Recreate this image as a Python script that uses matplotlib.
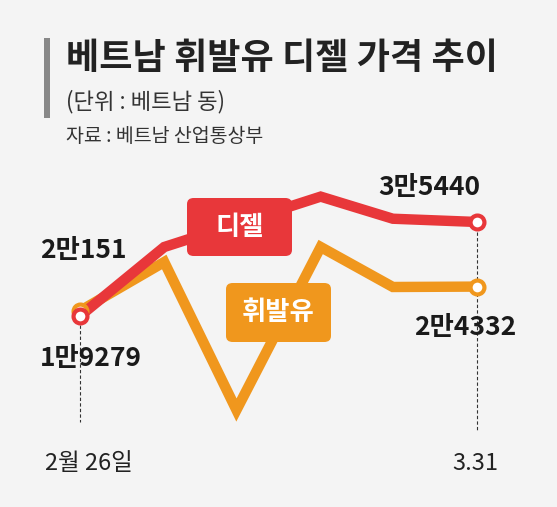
import matplotlib.pyplot as plt
from matplotlib.patches import FancyBboxPatch, Rectangle

plt.rcParams['font.family'] = ['Noto Sans CJK KR', 'DejaVu Sans']

# days since Feb 26
diesel_days = [0, 7, 20, 26, 33]
diesel_vals = [19279, 31140, 39800, 36000, 35440]
gas_days = [0, 7, 13, 20, 26, 33]
gas_vals = [20151, 28560, 3120, 31140, 24265, 24332]

RED = '#e8373a'
ORANGE = '#f0971d'
BG = '#f4f4f4'

W, H = 557, 507
fig = plt.figure(figsize=(W / 100, H / 100), dpi=100, facecolor=BG)
ax = fig.add_axes([0, 0, 1, 1], facecolor=BG)
ax.set_xlim(-6.65, 39.64)
ax.set_ylim(-13555, 73600)
ax.axis('off')

def px(x, y):
    return x / W, 1 - y / H

# dashed guides
ax.plot([0, 0], [17700, 1000], ls=(0, (3, 2)), color='#333', lw=0.8)
ax.plot([33, 33], [33800, -500], ls=(0, (3, 2)), color='#333', lw=0.8)

ax.plot(gas_days, gas_vals, color=ORANGE, lw=7.5, solid_joinstyle='miter', zorder=2)
ax.plot(diesel_days, diesel_vals, color=RED, lw=7.5, solid_joinstyle='miter', zorder=3)
ax.plot([gas_days[0], gas_days[-1]], [gas_vals[0], gas_vals[-1]], 'o', ms=10,
        mfc='white', mec=ORANGE, mew=3, zorder=4)
ax.plot([diesel_days[0], diesel_days[-1]], [diesel_vals[0], diesel_vals[-1]], 'o', ms=10,
        mfc='white', mec=RED, mew=3, zorder=5)

# value labels
num = dict(fontsize=19, fontweight='bold', color='#1a1a1a')
ax.text(-3.3, 30500, '2만151', ha='left', va='center', **num)
ax.text(-3.3, 11900, '1만9279', ha='left', va='center', **num)
ax.text(33.3, 41300, '3만5440', ha='right', va='center', **num)
ax.text(36.3, 17300, '2만4332', ha='right', va='center', **num)

# series label boxes
for (x0, y0, x1, y1, c, s) in [(187, 198, 292, 256, RED, '디젤'),
                                (226, 283, 331, 342, ORANGE, '휘발유')]:
    bx, by = px(x0, y1)
    fig.patches.append(FancyBboxPatch((bx, by), (x1 - x0) / W, (y1 - y0) / H,
                                      boxstyle='round,pad=0,rounding_size=0.012',
                                      transform=fig.transFigure, fc=c, ec='none', zorder=6))
    fig.text(*px((x0 + x1) / 2, (y0 + y1) / 2), s, ha='center', va='center',
             fontsize=19, fontweight='bold', color='white', zorder=7)

# header
fig.patches.append(Rectangle(px(44, 118), 6 / W, 80 / H, transform=fig.transFigure,
                             fc='#888', ec='none'))
fig.text(*px(66, 58), '베트남 휘발유 디젤 가격 추이', ha='left', va='center',
         fontsize=26, fontweight='bold', color='#222')
fig.text(*px(66, 102), '(단위 : 베트남 동)', ha='left', va='center', fontsize=16, color='#333')
fig.text(*px(66, 136), '자료 : 베트남 산업통상부', ha='left', va='center', fontsize=14, color='#333')

# x labels
fig.text(*px(45, 463), '2월 26일', ha='left', va='center', fontsize=17, color='#222')
fig.text(*px(475, 463), '3.31', ha='center', va='center', fontsize=17, color='#222')

fig.savefig('out.png', dpi=100, facecolor=BG)
